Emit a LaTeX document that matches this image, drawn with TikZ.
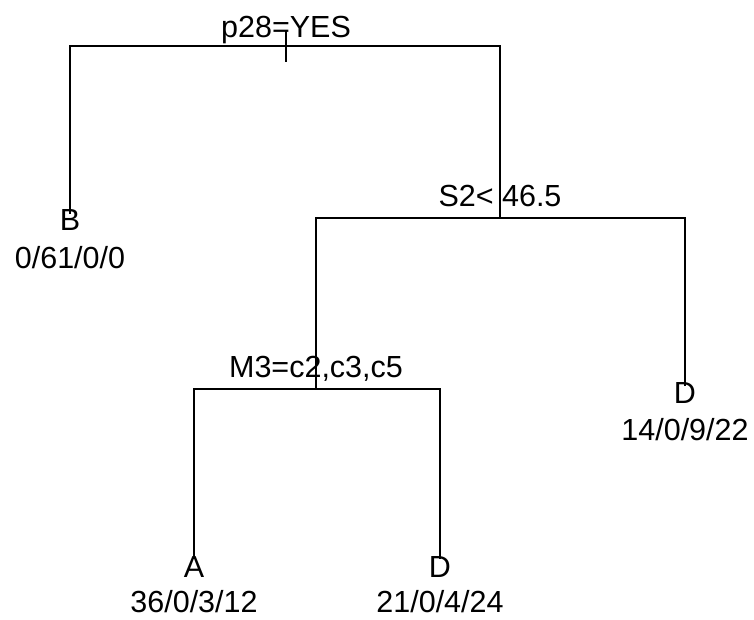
\documentclass[tikz,border=0pt]{standalone}
\usepackage{fontspec}
\setmainfont{Liberation Sans}
\begin{document}
\begin{tikzpicture}[x=1pt,y=-1pt,
  edge/.style={line width=1.4pt, line cap=butt},
  lbl/.style={font=\fontsize{30.5}{30.5}\selectfont, inner sep=0pt, anchor=base}]
\useasboundingbox (0,0) rectangle (754,620);
% split points
\coordinate (n1) at (286,46);
\coordinate (n2) at (500,218);
\coordinate (n3) at (316,389);
% leaf line ends
\coordinate (eB) at (70,214);
\coordinate (eD1) at (685,386);
\coordinate (eA) at (194,559);
\coordinate (eD2) at (440,559);
% root tick
\coordinate (tickT) at (286,30);
\coordinate (tickB) at (286,62);
% split labels
\node[lbl] (l1) at (286,38) {p28=YES};
\node[lbl] (l2) at (500,207) {S2< 46.5};
\node[lbl] (l3) at (316,377) {M3=c2,c3,c5};
% leaves
\node[lbl] (B) at (70,231) {B};
\node[lbl] (Bn) at (70,268) {0/61/0/0};
\node[lbl] (D1) at (685,403) {D};
\node[lbl] (D1n) at (685,440) {14/0/9/22};
\node[lbl] (A) at (194,577) {A};
\node[lbl] (An) at (194,612) {36/0/3/12};
\node[lbl] (D2) at (440,577) {D};
\node[lbl] (D2n) at (440,612) {21/0/4/24};
% branches
\draw[edge] (eB) |- (n1) -| (n2);
\draw[edge] (eD1) |- (n2) -| (n3);
\draw[edge] (eA) |- (n3) -| (eD2);
\draw[edge] (tickT) -- (tickB);
\end{tikzpicture}
\end{document}
